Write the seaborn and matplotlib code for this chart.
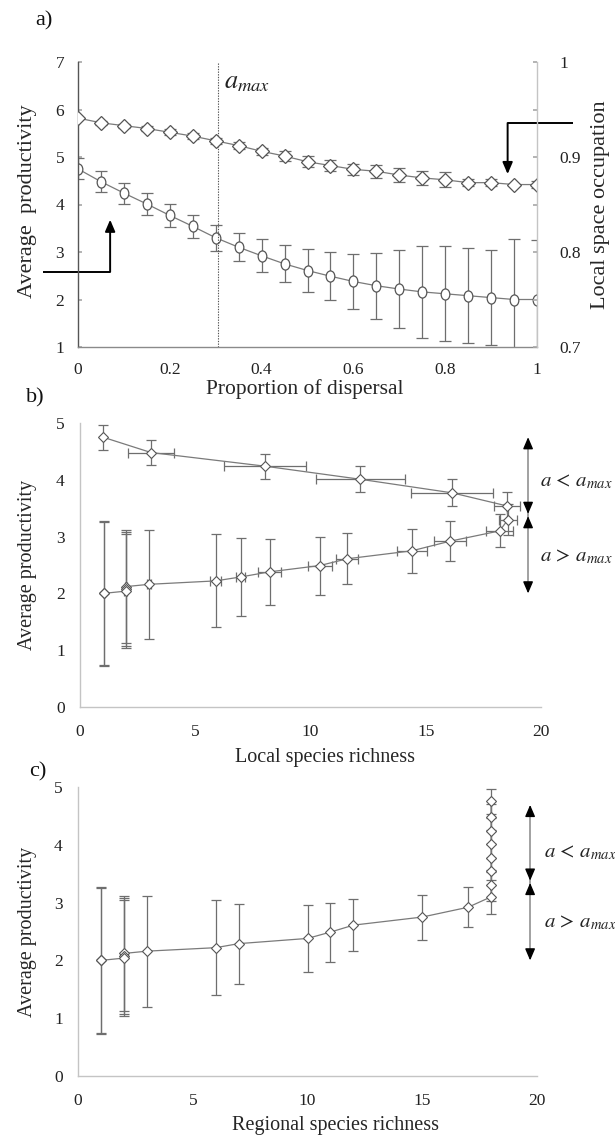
import numpy as np
import pandas as pd
import matplotlib
matplotlib.use("Agg")
import matplotlib.pyplot as plt
from matplotlib.path import Path
from matplotlib.ticker import FuncFormatter, MultipleLocator
import seaborn as sns

# Proportion of dispersal (a) and the quantities measured at each level
dispersal = [0.00, 0.05, 0.10, 0.15, 0.20, 0.25, 0.30, 0.35, 0.40, 0.45, 0.50,
             0.55, 0.60, 0.65, 0.70, 0.75, 0.80, 0.85, 0.90, 0.95, 1.00]
productivity = [4.75, 4.48, 4.24, 4.01, 3.77, 3.54, 3.30, 3.10, 2.92, 2.75, 2.61,
                2.49, 2.38, 2.29, 2.22, 2.16, 2.12, 2.08, 2.04, 2.00, 2.00]
productivity_sd = [0.22, 0.22, 0.22, 0.23, 0.24, 0.24, 0.27, 0.29, 0.35, 0.39, 0.45,
                   0.51, 0.58, 0.69, 0.82, 0.96, 1.00, 1.00, 1.00, 1.27, 1.26]
occupation = [0.941, 0.936, 0.933, 0.930, 0.926, 0.922, 0.917, 0.912, 0.906, 0.901, 0.895,
              0.891, 0.887, 0.885, 0.881, 0.878, 0.876, 0.873, 0.873, 0.871, 0.871]
occupation_sd = [0.000, 0.002, 0.002, 0.003, 0.003, 0.003, 0.003, 0.004, 0.004, 0.005, 0.006,
                 0.006, 0.006, 0.007, 0.007, 0.007, 0.008, 0.004, 0.004, 0.000, 0.004]
local_richness = [1.00, 3.08, 8.02, 12.15, 16.15, 18.52, 18.57, 18.20, 16.06, 14.40, 11.60,
                  10.40, 8.23, 6.98, 5.88, 3.00, 2.00, 2.00, 1.98, 1.02, 1.02]
local_richness_sd = [0.00, 0.98, 1.78, 1.93, 1.78, 0.58, 0.40, 0.60, 0.70, 0.65, 0.48,
                     0.52, 0.50, 0.20, 0.24, 0.10, 0.05, 0.05, 0.05, 0.00, 0.00]
regional_richness = [18, 18, 18, 18, 18, 18, 18, 18, 17, 15, 12,
                     11, 10, 7, 6, 3, 2, 2, 2, 1, 1]
a_max = 0.305

df = pd.DataFrame({
    "dispersal": dispersal,
    "productivity": productivity,
    "productivity_sd": productivity_sd,
    "occupation": occupation,
    "occupation_sd": occupation_sd,
    "local": local_richness,
    "local_sd": local_richness_sd,
    "regional": regional_richness,
})

sns.set_theme(style="white")
plt.rcParams["font.family"] = ["Liberation Serif", "DejaVu Serif"]
plt.rcParams["mathtext.fontset"] = "stix"

LINE = "#7a7a7a"
EDGE = "#555555"
ERR = "#6e6e6e"
SPINE_LIGHT = "#c4c4c4"

# tall oval marker for the productivity series
circ = Path.unit_circle()
oval = Path(circ.vertices * np.array([0.78, 1.0]), circ.codes)

fmt_g = FuncFormatter(lambda v, p: f"{v:g}")

fig = plt.figure(figsize=(6.15, 11.39), dpi=100)
W, H = 615.0, 1139.0


def axes_px(left, right, top, bottom):
    return fig.add_axes([left / W, 1 - bottom / H, (right - left) / W, (bottom - top) / H])


# ---------------- a) productivity and space occupation vs dispersal ----------------
axA = axes_px(78, 537, 62, 347)
axA2 = axA.twinx()

axA.errorbar(df["dispersal"], df["productivity"], yerr=df["productivity_sd"], fmt="none",
             ecolor=ERR, elinewidth=0.9, capsize=4.2, capthick=0.9)
sns.lineplot(data=df, x="dispersal", y="productivity", ax=axA, color=LINE, lw=0.9,
             marker=oval, markersize=8, markerfacecolor="white", markeredgecolor=EDGE,
             markeredgewidth=0.9, errorbar=None)

m = df["occupation_sd"] > 0
axA2.errorbar(df.loc[m, "dispersal"], df.loc[m, "occupation"], yerr=df.loc[m, "occupation_sd"],
              fmt="none", ecolor=ERR, elinewidth=0.9, capsize=4.2, capthick=0.9)
sns.lineplot(data=df, x="dispersal", y="occupation", ax=axA2, color=LINE, lw=0.9,
             marker="D", markersize=7.3, markerfacecolor="white", markeredgecolor=EDGE,
             markeredgewidth=0.9, errorbar=None)

axA.axvline(a_max, color="#555555", lw=0.8, ls=(0, (1.2, 1.2)))
axA.text(a_max + 0.012, 6.55, r"$a_{max}$", fontsize=19, va="center", ha="left", color="#222")

axA.set_xlim(0, 1)
axA.set_ylim(1, 7)
axA2.set_ylim(0.7, 1.0)
axA.xaxis.set_major_locator(MultipleLocator(0.2))
axA.yaxis.set_major_locator(MultipleLocator(1))
axA2.set_yticks([0.7, 0.75, 0.8, 0.85, 0.9, 0.95, 1.0])
axA2.set_yticklabels(["0.7", "", "0.8", "", "0.9", "", "1"])
axA.xaxis.set_major_formatter(fmt_g)

axA.set_xlabel("Proportion of dispersal", fontsize=15.5, va="center")
axA.xaxis.set_label_coords(0.495, -0.147)
axA.set_ylabel("Average  productivity", fontsize=16, va="center")
axA.yaxis.set_label_coords(-0.111, 0.51)
axA2.set_ylabel("Local space occupation", fontsize=16, va="center", rotation=90)
axA2.yaxis.set_label_coords(1.139, 0.5)

for ax in (axA, axA2):
    ax.spines["top"].set_visible(False)
axA.spines["left"].set_color("#555555")
axA.spines["bottom"].set_color("#8a8a8a")
axA.spines["right"].set_visible(False)
axA2.spines["left"].set_visible(False)
axA2.spines["bottom"].set_visible(False)
axA2.spines["right"].set_color(SPINE_LIGHT)
for sp in ("left", "bottom"):
    axA.spines[sp].set_linewidth(1.0)
axA2.spines["right"].set_linewidth(1.0)

axA.tick_params(axis="y", direction="in", length=3, color="#aaaaaa", labelsize=12.5,
                pad=10, labelcolor="#222")
axA.tick_params(axis="x", direction="in", length=3, color="#aaaaaa", labelsize=12.5,
                pad=11, labelcolor="#222")
axA2.tick_params(axis="y", direction="in", length=3, color="#aaaaaa", labelsize=12.5,
                 pad=16, labelcolor="#222")

# the two pointer arrows linking each curve to its axis
axA.plot([-0.076, 0.07], [2.58, 2.58], color="black", lw=1.4, clip_on=False,
         solid_capstyle="butt")
axA.annotate("", xy=(0.07, 3.68), xytext=(0.07, 2.58),
             arrowprops=dict(arrowstyle="-|>,head_length=0.7,head_width=0.3", color="black",
                             lw=1.4, shrinkA=0, shrinkB=0, mutation_scale=10))
axA2.plot([1.078, 0.936], [0.9358, 0.9358], color="black", lw=1.4, clip_on=False,
          solid_capstyle="butt")
axA2.annotate("", xy=(0.936, 0.882), xytext=(0.936, 0.9358),
              arrowprops=dict(arrowstyle="-|>,head_length=0.7,head_width=0.3", color="black",
                              lw=1.4, shrinkA=0, shrinkB=0, mutation_scale=10))
fig.text(35 / W, 1 - 21 / H, "a)", fontsize=16, va="center", ha="left", color="#111")


# ---------------- b) and c) productivity vs species richness ----------------
def style_richness_axes(ax):
    ax.set_xlim(0, 20)
    ax.set_ylim(0, 5)
    ax.xaxis.set_major_locator(MultipleLocator(5))
    ax.yaxis.set_major_locator(MultipleLocator(1))
    for sp in ("top", "right"):
        ax.spines[sp].set_visible(False)
    for sp in ("left", "bottom"):
        ax.spines[sp].set_color(SPINE_LIGHT)
        ax.spines[sp].set_linewidth(1.0)
    ax.tick_params(axis="both", direction="out", length=3, color=SPINE_LIGHT,
                   labelsize=12.5, labelcolor="#222")
    ax.tick_params(axis="y", pad=8)
    ax.tick_params(axis="x", pad=9)
    ax.set_ylabel("Average productivity", fontsize=14.5, va="center")


def regime_arrows(ax, x, top, mid, bottom, text_x, y_lt, y_gt):
    ax.plot([x, x], [bottom + 0.1, top - 0.1], color="#9a9a9a", lw=1.3, solid_capstyle="butt")
    style = dict(arrowstyle="-|>,head_length=0.7,head_width=0.3", color="black", lw=1.0,
                 shrinkA=0, shrinkB=0, mutation_scale=10)
    ax.annotate("", xy=(x, top), xytext=(x, top - 0.15), arrowprops=style)
    ax.annotate("", xy=(x, mid + 0.02), xytext=(x, mid + 0.2), arrowprops=style)
    ax.annotate("", xy=(x, mid - 0.02), xytext=(x, mid - 0.2), arrowprops=style)
    ax.annotate("", xy=(x, bottom), xytext=(x, bottom + 0.15), arrowprops=style)
    ax.text(text_x, y_lt, r"$a\,<\,a_{max}$", fontsize=15, va="center", ha="left",
            color="#222", clip_on=False)
    ax.text(text_x, y_gt, r"$a\,>\,a_{max}$", fontsize=15, va="center", ha="left",
            color="#222", clip_on=False)


axB = axes_px(80, 541, 423, 707)
mx = df["local_sd"] > 0
axB.errorbar(df["local"], df["productivity"], yerr=df["productivity_sd"], fmt="none",
             ecolor=ERR, elinewidth=0.9, capsize=3.3, capthick=0.9)
axB.errorbar(df.loc[mx, "local"], df.loc[mx, "productivity"], xerr=df.loc[mx, "local_sd"],
             fmt="none", ecolor=ERR, elinewidth=0.9, capsize=3.3, capthick=0.9)
sns.lineplot(data=df, x="local", y="productivity", ax=axB, sort=False, estimator=None,
             errorbar=None, color=LINE, lw=0.9, marker="D", markersize=5.3,
             markerfacecolor="white", markeredgecolor=EDGE, markeredgewidth=0.8)
style_richness_axes(axB)
axB.set_xlabel("Local species richness", fontsize=14.5, va="center")
axB.xaxis.set_label_coords(0.531, -0.178)
axB.yaxis.set_label_coords(-0.113, 0.5)
regime_arrows(axB, 19.44, 4.75, 3.38, 2.0, 19.96, 3.96, 2.64)
fig.text(26 / W, 1 - 398 / H, "b)", fontsize=16, va="center", ha="left", color="#111")

axC = axes_px(78, 537, 787, 1076)
axC.errorbar(df["regional"], df["productivity"], yerr=df["productivity_sd"], fmt="none",
             ecolor=ERR, elinewidth=0.9, capsize=3.3, capthick=0.9)
sns.lineplot(data=df, x="regional", y="productivity", ax=axC, sort=False, estimator=None,
             errorbar=None, color=LINE, lw=0.9, marker="D", markersize=5.3,
             markerfacecolor="white", markeredgecolor=EDGE, markeredgewidth=0.8)
style_richness_axes(axC)
axC.set_xlabel("Regional species richness", fontsize=14.5, va="center")
axC.xaxis.set_label_coords(0.56, -0.170)
axC.yaxis.set_label_coords(-0.109, 0.5)
regime_arrows(axC, 19.7, 4.69, 3.36, 2.0, 20.3, 3.87, 2.65)
fig.text(29 / W, 1 - 772 / H, "c)", fontsize=16, va="center", ha="left", color="#111")

fig.savefig("out.png", dpi=100, facecolor="white")
